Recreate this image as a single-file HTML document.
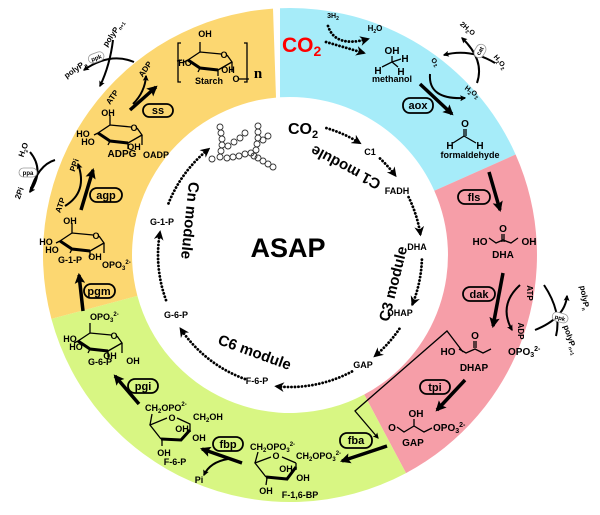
<!DOCTYPE html>
<html><head><meta charset="utf-8"><style>
html,body{margin:0;padding:0;background:#fff}
svg{display:block}
text{font-family:"Liberation Sans",Arial,sans-serif;font-weight:bold;fill:#000}
.s{font-size:9px}
.m{font-size:10px}
.e{font-size:11px}
.mod{font-size:15px}
.ln{fill:none;stroke:#000;stroke-width:1.3}
.th{fill:none;stroke:#000;stroke-width:3.5}
.cv{fill:none;stroke:#000;stroke-width:2}
.dt{fill:none;stroke:#000;stroke-width:2.8;stroke-dasharray:0.1 3.4;stroke-linecap:round}
.box{fill:none;stroke:#000;stroke-width:1.8}
.gb{fill:#fff;stroke:#999;stroke-width:0.8}
</style></head><body>
<svg width="600" height="515" viewBox="0 0 600 515" xmlns="http://www.w3.org/2000/svg">
<defs>
<marker id="ah" viewBox="0 0 10 10" refX="8" refY="5" markerWidth="3" markerHeight="3" orient="auto"><path d="M0,0 L10,5 L0,10 L2,5Z" fill="#000"/></marker>
<marker id="ah2" viewBox="0 0 10 10" refX="8" refY="5" markerWidth="4.5" markerHeight="4.5" orient="auto"><path d="M0,0 L10,5 L0,10 L2,5Z" fill="#000"/></marker>
<marker id="ad" viewBox="0 0 10 10" refX="8" refY="5" markerWidth="3.5" markerHeight="3.5" orient="auto"><path d="M0,0 L10,5 L0,10 L3,5Z" fill="#000"/></marker>
<g id="glc">
<path class="ln" d="M0,8 L12,0 L33,2 M39,3 L44,10 L30,18 M12,0 L12,-10 M0,8 L-4,10 M12,16 L10,20 M30,18 L30,24 M44,10 L44,20"/>
<path d="M0,8 L12,16 L30,18" fill="none" stroke="#000" stroke-width="3"/>
<text x="36" y="6" class="s" text-anchor="middle">O</text>
</g>
</defs>

<path d="M280,8.2 A247,247 0 0 1 515.6,154.5 L434.3,190.7 A158,158 0 0 0 280,97.3 Z" fill="#a6ecf9"/>
<path d="M515.6,154.5 A247,247 0 0 1 406,473.1 L364.2,394.5 A158,158 0 0 0 434.3,190.7 Z" fill="#f69ea8"/>
<path d="M406,473.1 A247,247 0 0 1 51.4,318.9 L137.4,295.9 A158,158 0 0 0 364.2,394.5 Z" fill="#d8f683"/>
<path d="M51.4,318.9 A247,247 0 0 1 273,8.6 L276,97.6 A158,158 0 0 0 137.4,295.9 Z" fill="#fcd771"/>

<g class="dt">
<path d="M326.4,128.1 A132,132 0 0 1 359.9,143.1" marker-end="url(#ad)"/>
<path d="M380,158.5 A132,132 0 0 1 395.4,175.6" marker-end="url(#ad)"/>
<path d="M408.6,197.1 A132,132 0 0 1 420.4,234.4" marker-end="url(#ad)"/>
<path d="M421.9,259.6 A132,132 0 0 1 412.4,304.4" marker-end="url(#ad)"/>
<path d="M399.4,328.8 A132,132 0 0 1 374.8,356.1" marker-end="url(#ad)"/>
<path d="M352,371.5 A132,132 0 0 1 276.2,386.3" marker-end="url(#ad)"/>
<path d="M244.9,379 A132,132 0 0 1 180.6,328.8" marker-end="url(#ad)"/>
<path d="M166,300.1 A132,132 0 0 1 160,232.1" marker-end="url(#ad)"/>
<path d="M168.5,203.4 A132,132 0 0 1 208.7,149" marker-end="url(#ad)"/>
</g>
<g fill="none" stroke="#333" stroke-width="0.9">
<circle cx="258" cy="126" r="3"/><circle cx="258" cy="132" r="3"/><circle cx="258" cy="138" r="3"/><circle cx="257" cy="144" r="3"/><circle cx="256" cy="150" r="3"/><circle cx="254" cy="156" r="3"/>
<circle cx="263" cy="140" r="3"/><circle cx="268" cy="136" r="3"/>
<circle cx="220" cy="127" r="3"/><circle cx="221" cy="133" r="3"/><circle cx="222" cy="139" r="3"/><circle cx="222" cy="145" r="3"/><circle cx="221" cy="151" r="3"/><circle cx="220" cy="157" r="3"/>
<circle cx="228" cy="146" r="3"/><circle cx="234" cy="142" r="3"/><circle cx="240" cy="138" r="3"/><circle cx="245" cy="133" r="3"/>
<circle cx="227" cy="158" r="3"/><circle cx="233" cy="157" r="3"/><circle cx="239" cy="156" r="3"/><circle cx="245" cy="154" r="3"/><circle cx="251" cy="153" r="3"/>
<circle cx="258" cy="158" r="3"/><circle cx="263" cy="161" r="3"/><circle cx="268" cy="164" r="3"/><circle cx="273" cy="167" r="3"/><circle cx="212" cy="159" r="3"/>
</g>
<text x="288" y="134" font-size="16">CO<tspan font-size="11" dy="4">2</tspan></text>
<text x="370" y="155" class="s" text-anchor="middle">C1</text>
<text x="397" y="194" class="s" text-anchor="middle">FADH</text>
<text x="417" y="250" class="s" text-anchor="middle">DHA</text>
<text x="400" y="316" class="s" text-anchor="middle">DHAP</text>
<text x="363" y="368" class="s" text-anchor="middle">GAP</text>
<text x="257" y="384" class="s" text-anchor="middle">F-6-P</text>
<text x="176" y="318" class="s" text-anchor="middle">G-6-P</text>
<text x="162" y="225" class="s" text-anchor="middle">G-1-P</text>
<text x="288" y="257" font-size="27" text-anchor="middle">ASAP</text>
<text class="mod" text-anchor="middle" transform="translate(348,163) rotate(208)">C1 module</text>
<text class="mod" text-anchor="middle" transform="translate(398,285) rotate(-76)">C3 module</text>
<text class="mod" text-anchor="middle" transform="translate(253,357) rotate(20)">C6 module</text>
<text class="mod" text-anchor="middle" transform="translate(185,220) rotate(96)">Cn module</text>

<text x="282" y="52" font-size="21" style="fill:#f00">CO<tspan font-size="14" dy="4" style="fill:#f00">2</tspan></text>
<text x="333" y="18" font-size="7" text-anchor="middle">3H<tspan font-size="5" dy="2">2</tspan></text>
<text x="375" y="31" font-size="8" text-anchor="middle">H<tspan font-size="5" dy="2">2</tspan><tspan dy="-2">O</tspan></text>
<path class="dt" d="M328,26 Q335,48 368,39" marker-end="url(#ad)"/>
<path class="dt" d="M326,42 L364,53" marker-end="url(#ad)"/>
<text x="392" y="54" class="m" text-anchor="middle">OH</text>
<path class="ln" d="M392,56 L392,62 L382,67 M392,62 L398,67 M392,62 L401,59"/>
<text x="405" y="62" class="m" text-anchor="middle">H</text>
<text x="378" y="74" class="m" text-anchor="middle">H</text>
<text x="401" y="75" class="m" text-anchor="middle">H</text>
<text x="392" y="82" class="s" text-anchor="middle">methanol</text>
<text x="435" y="64" font-size="7" text-anchor="middle" transform="rotate(45 435 62)">O<tspan font-size="5" dy="2">2</tspan></text>
<text x="468" y="31" font-size="7" text-anchor="middle" transform="rotate(40 468 28)">2H<tspan font-size="5" dy="2">2</tspan><tspan dy="-2">O</tspan></text>
<text x="500" y="64" font-size="7" text-anchor="middle" transform="rotate(50 500 62)">H<tspan font-size="5" dy="2">2</tspan><tspan dy="-2">O</tspan><tspan font-size="5" dy="2">2</tspan></text>
<text x="472" y="94" font-size="7" text-anchor="middle" transform="rotate(35 472 92)">H<tspan font-size="5" dy="2">2</tspan><tspan dy="-2">O</tspan><tspan font-size="5" dy="2">2</tspan></text>
<path class="cv" d="M477,83 Q485,60 462,38" marker-end="url(#ah)"/>
<path class="cv" d="M495,63 Q470,48 444,55" marker-end="url(#ah)"/>
<rect x="473" y="46" width="14" height="10" rx="5" class="gb" transform="rotate(-60 480 51)"/>
<text x="480" y="53" font-size="6" text-anchor="middle" transform="rotate(-60 480 51)">cat</text>
<path class="cv" d="M430,74 Q428,100 465,98" marker-end="url(#ah)"/>
<path class="th" d="M420,84 L452,114" marker-end="url(#ah)"/>
<rect x="403" y="98" width="30" height="15" rx="7" class="box"/>
<text x="418" y="109" class="e" text-anchor="middle">aox</text>
<text x="465" y="127" class="m" text-anchor="middle">O</text>
<path class="ln" d="M464,129 L464,136 L453,143 M464,136 L476,143 M466,129 L466,136"/>
<text x="450" y="149" class="m" text-anchor="middle">H</text>
<text x="480" y="149" class="m" text-anchor="middle">H</text>
<text x="470" y="158" class="s" text-anchor="middle">formaldehyde</text>

<path class="th" d="M489,172 L500,210" marker-end="url(#ah)"/>
<rect x="458" y="190" width="32" height="14" rx="7" class="box"/>
<text x="474" y="201" class="e" text-anchor="middle">fls</text>
<text x="503" y="232" class="m" text-anchor="middle">O</text>
<path class="ln" d="M502,234 L502,242 M504,234 L504,242 M489,238 L496,243 L503,240 L511,243 L518,238"/>
<text x="480" y="245" class="m" text-anchor="middle">HO</text>
<text x="529" y="245" class="m" text-anchor="middle">OH</text>
<text x="503" y="258" class="m" text-anchor="middle">DHA</text>
<path class="th" d="M503,273 L493,326" marker-end="url(#ah)"/>
<rect x="463" y="287" width="32" height="14" rx="7" class="box"/>
<text x="479" y="298" class="e" text-anchor="middle">dak</text>
<path class="cv" d="M520,285 Q498,305 512,330" marker-end="url(#ah)"/>
<text x="530" y="290" font-size="8" text-anchor="middle" transform="rotate(90 527 290)">ATP</text>
<text x="523" y="330" font-size="8" text-anchor="middle" transform="rotate(90 520 328)">ADP</text>
<path class="cv" d="M535,330 Q565,318 567,296" marker-end="url(#ah)"/>
<path class="cv" d="M544,285 Q562,312 556,336"/>
<rect x="552" y="313" width="16" height="9" rx="4.5" class="gb" transform="rotate(15 560 318)"/>
<text x="560" y="320" font-size="6" text-anchor="middle" transform="rotate(15 560 318)">ppk</text>
<text x="584" y="300" font-size="8" text-anchor="middle" transform="rotate(80 584 298)">polyP<tspan font-size="5" dy="2">n</tspan></text>
<text x="570" y="342" font-size="8" text-anchor="middle" transform="rotate(72 570 340)">polyP<tspan font-size="5" dy="2">n+1</tspan></text>
<path class="ln" d="M463,352 L447,331 L355,411 L378,438" stroke-width="2" marker-end="url(#ah2)"/>
<text x="475" y="339" class="m" text-anchor="middle">O</text>
<path class="ln" d="M474,341 L474,348 M476,341 L476,348 M459,349 L466,353 L475,349 L483,353 L491,349"/>
<text x="448" y="355" class="m" text-anchor="middle">HO</text>
<text x="508" y="355" class="m">OPO<tspan font-size="7" dy="2">3</tspan><tspan font-size="7" dy="-6">2-</tspan></text>
<text x="474" y="371" class="m" text-anchor="middle">DHAP</text>
<path class="th" d="M465,380 L437,410" marker-end="url(#ah)"/>
<rect x="420" y="380" width="30" height="14" rx="7" class="box"/>
<text x="435" y="391" class="e" text-anchor="middle">tpi</text>
<text x="416" y="417" class="m" text-anchor="middle">OH</text>
<path class="ln" d="M397,427 L404,432 L414,426 L424,432 L432,428 M414,426 L414,419"/>
<text x="392" y="431" class="m" text-anchor="middle">O</text>
<text x="433" y="431" class="m">OPO<tspan font-size="7" dy="2">3</tspan><tspan font-size="7" dy="-6">2-</tspan></text>
<text x="413" y="446" class="m" text-anchor="middle">GAP</text>

<path class="th" d="M387,446 L342,461" marker-end="url(#ah)"/>
<rect x="340" y="433" width="32" height="15" rx="7" class="box"/>
<text x="356" y="444" class="e" text-anchor="middle">fba</text>
<text x="250" y="450" class="s">CH<tspan font-size="6" dy="2">2</tspan><tspan dy="-2">OPO</tspan><tspan font-size="6" dy="2">3</tspan><tspan font-size="6" dy="-6">2-</tspan></text>
<text x="296" y="459" class="s">CH<tspan font-size="6" dy="2">2</tspan><tspan dy="-2">OPO</tspan><tspan font-size="6" dy="2">3</tspan><tspan font-size="6" dy="-6">2-</tspan></text>
<text x="276" y="459" class="s" text-anchor="middle">O</text>
<path class="ln" d="M271,457 L255,463 L266,477 M282,457 L296,463 M296,463 L296,470 M255,463 L258,452 M267,478 L266,485"/>
<path d="M266,477 L287,479 L296,467" fill="none" stroke="#000" stroke-width="3"/>
<text x="286" y="472" class="s" text-anchor="middle">OH</text>
<text x="303" y="481" class="s" text-anchor="middle">OH</text>
<text x="266" y="494" class="s" text-anchor="middle">OH</text>
<text x="300" y="498" class="s" text-anchor="middle">F-1,6-BP</text>
<path class="th" d="M242,463 L202,449" marker-end="url(#ah)"/>
<path class="cv" d="M228,459 Q210,462 204,475" marker-end="url(#ah)"/>
<rect x="213" y="437" width="30" height="14" rx="7" class="box"/>
<text x="228" y="448" class="e" text-anchor="middle">fbp</text>
<text x="199" y="483" class="s" text-anchor="middle">Pi</text>
<text x="145" y="411" class="s">CH<tspan font-size="6" dy="2">2</tspan><tspan dy="-2">OPO</tspan><tspan font-size="6" dy="-5">2-</tspan></text>
<text x="172" y="421" class="s" text-anchor="middle">O</text>
<text x="193" y="420" class="s">CH<tspan font-size="6" dy="2">2</tspan><tspan dy="-2">OH</tspan></text>
<path class="ln" d="M167,418 L150,425 L161,439 M177,418 L190,424 L190,432 M150,425 L152,414 M162,440 L162,446"/>
<path d="M161,439 L181,440 L190,430" fill="none" stroke="#000" stroke-width="3"/>
<text x="182" y="432" class="s" text-anchor="middle">OH</text>
<text x="199" y="441" class="s" text-anchor="middle">OH</text>
<text x="164" y="456" class="s" text-anchor="middle">OH</text>
<text x="175" y="465" class="s" text-anchor="middle">F-6-P</text>
<path class="th" d="M139,404 L115,376" marker-end="url(#ah)"/>
<rect x="128" y="379" width="30" height="14" rx="7" class="box"/>
<text x="143" y="390" class="e" text-anchor="middle">pgi</text>
<use href="#glc" x="78" y="333"/>
<text x="90" y="320" class="s">OPO<tspan font-size="6" dy="2">3</tspan><tspan font-size="6" dy="-6">2-</tspan></text>
<text x="70" y="342" class="s" text-anchor="middle">HO</text>
<text x="76" y="350" class="s" text-anchor="middle">HO</text>
<text x="110" y="359" class="s" text-anchor="middle">OH</text>
<text x="100" y="365" class="s" text-anchor="middle">G-6-P</text>
<text x="133" y="364" class="s" text-anchor="middle">OH</text>

<path class="th" d="M83,311 L79,275" marker-end="url(#ah)"/>
<rect x="84" y="284" width="31" height="14" rx="7" class="box"/>
<text x="99" y="295" class="e" text-anchor="middle">pgm</text>
<use href="#glc" x="60" y="233"/>
<text x="70" y="224" class="s" text-anchor="middle">OH</text>
<text x="46" y="245" class="s" text-anchor="middle">HO</text>
<text x="52" y="253" class="s" text-anchor="middle">HO</text>
<text x="70" y="263" class="s" text-anchor="middle">G-1-P</text>
<text x="95" y="260" class="s" text-anchor="middle">OH</text>
<text x="102" y="268" class="s">OPO<tspan font-size="6" dy="2">3</tspan><tspan font-size="6" dy="-6">2-</tspan></text>
<path class="th" d="M81,210 L93,170" marker-end="url(#ah)"/>
<path class="cv" d="M65,206 Q88,192 78,164" marker-end="url(#ah)"/>
<rect x="90" y="188" width="32" height="14" rx="7" class="box"/>
<text x="106" y="199" class="e" text-anchor="middle">agp</text>
<text x="74" y="168" font-size="8" text-anchor="middle" transform="rotate(-70 74 165)">PPi</text>
<text x="60" y="208" font-size="8" text-anchor="middle" transform="rotate(-70 60 205)">ATP</text>
<path class="cv" d="M55,160 Q38,165 30,192"/>
<path class="cv" d="M30,152 Q45,170 30,192" marker-end="url(#ah)"/>
<rect x="19" y="168" width="18" height="9" rx="4.5" class="gb"/>
<text x="28" y="175" font-size="6" text-anchor="middle">ppa</text>
<text x="24" y="152" font-size="8" text-anchor="middle" transform="rotate(-70 24 150)">H<tspan font-size="5" dy="2">2</tspan><tspan dy="-2">O</tspan></text>
<text x="19" y="196" font-size="8" text-anchor="middle" transform="rotate(-70 19 193)">2Pi</text>
<use href="#glc" x="98" y="125"/>
<text x="108" y="116" class="s" text-anchor="middle">OH</text>
<text x="83" y="137" class="s" text-anchor="middle">HO</text>
<text x="88" y="145" class="s" text-anchor="middle">HO</text>
<text x="134" y="150" class="s" text-anchor="middle">OH</text>
<text x="122" y="157" class="m" text-anchor="middle">ADPG</text>
<text x="156" y="158" class="s" text-anchor="middle">OADP</text>
<path class="th" d="M130,110 L156,87" marker-end="url(#ah)"/>
<path class="cv" d="M133,104 Q145,92 146,76" marker-end="url(#ah)"/>
<rect x="143" y="104" width="30" height="13" rx="6.5" class="box"/>
<text x="158" y="114" class="e" text-anchor="middle">ss</text>
<text x="145" y="72" font-size="8" text-anchor="middle" transform="rotate(-55 145 69)">ADP</text>
<text x="112" y="100" font-size="8" text-anchor="middle" transform="rotate(-55 112 97)">ATP</text>
<path class="cv" d="M113,40 Q110,65 100,86" marker-end="url(#ah)"/>
<path class="cv" d="M134,62 Q110,52 84,70" marker-end="url(#ah)"/>
<rect x="88" y="53" width="16" height="9" rx="4.5" class="gb" transform="rotate(-20 96 57)"/>
<text x="96" y="60" font-size="6" text-anchor="middle" transform="rotate(-20 96 57)">ppk</text>
<text x="113" y="36" font-size="8" text-anchor="middle" transform="rotate(-55 113 33)">polyP<tspan font-size="5" dy="2">n+1</tspan></text>
<text x="75" y="72" font-size="8" text-anchor="middle" transform="rotate(-35 75 69)">polyP<tspan font-size="5" dy="2">n</tspan></text>
<use href="#glc" x="188" y="52"/>
<path class="ln" d="M181,43 L178,43 L178,82 L181,82 M244,43 L247,43 L247,82 L244,82 M182,60 L177,61 M238,79 L249,79"/>
<text x="205" y="37" class="s" text-anchor="middle">OH</text>
<text x="185" y="66" class="s" text-anchor="middle">HO</text>
<text x="228" y="73" class="s" text-anchor="middle">OH</text>
<text x="209" y="84" class="s" text-anchor="middle">Starch</text>
<text x="236" y="82" class="s" text-anchor="middle">O</text>
<text x="258" y="78" font-size="15" style="font-family:'Liberation Serif',serif" text-anchor="middle">n</text>
</svg>
</body></html>
